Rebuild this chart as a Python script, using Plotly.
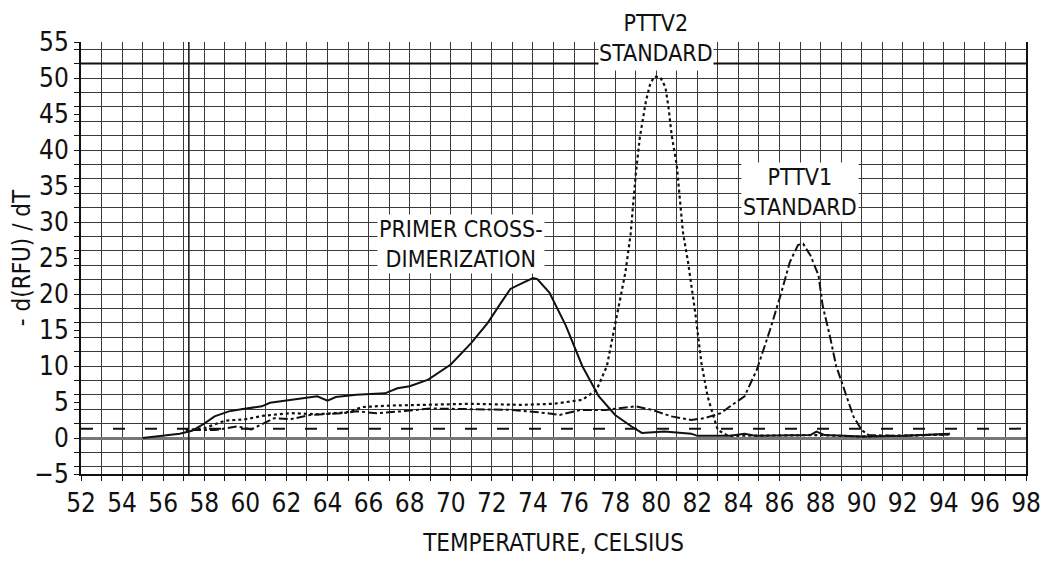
import plotly.graph_objects as go

# Melt-curve data
primer_x = [55.0, 56.8, 57.4, 58.0, 58.5, 59.2, 59.8, 60.8, 61.2, 61.9, 63.5, 64.0, 64.4, 65.4,
            66.8, 67.4, 68.0, 68.9, 70.0, 71.0, 71.8, 72.4, 72.9, 73.4, 74.0, 74.2, 74.8,
            75.6, 76.4, 77.2, 78.0, 78.8, 79.3, 80.4, 81.7, 82.0, 83.6, 84.3, 84.8, 87.5,
            87.8, 88.2, 90.0, 92.1, 94.3]
primer_y = [0.0, 0.6, 1.0, 2.0, 3.0, 3.7, 4.0, 4.4, 4.9, 5.2, 5.8, 5.2, 5.7, 6.0,
            6.2, 6.9, 7.2, 8.1, 10.2, 13.2, 16.0, 18.6, 20.7, 21.4, 22.2, 22.1, 20.2,
            15.6, 10.0, 5.8, 3.2, 1.6, 0.7, 0.9, 0.6, 0.3, 0.3, 0.6, 0.3, 0.4,
            0.9, 0.4, 0.2, 0.3, 0.6]

pttv2_x = [57.1, 58.0, 59.0, 60.0, 60.9, 62.2, 63.5, 64.9, 65.7, 67.0, 68.6, 71.0, 73.4,
           75.0, 76.4, 77.1, 77.6, 77.9, 78.2, 78.5, 78.75, 79.0, 79.2, 79.5, 79.7, 79.9,
           80.2, 80.45, 80.6, 80.75, 81.0, 81.15, 81.3, 81.55, 81.9, 82.2, 82.5, 82.84,
           83.0, 83.5, 86.0, 88.0, 90.0, 92.0, 94.3]
pttv2_y = [1.1, 1.35, 2.4, 2.6, 3.1, 3.45, 3.3, 3.55, 4.3, 4.5, 4.6, 4.75, 4.6,
           4.75, 5.3, 6.7, 10.0, 14.2, 18.4, 23.0, 28.2, 36.5, 41.7, 46.8, 49.1, 50.2,
           50.1, 48.7, 45.9, 42.1, 37.9, 33.3, 28.6, 24.4, 17.4, 10.4, 5.8, 2.5,
           1.1, 0.3, 0.3, 0.4, 0.2, 0.3, 0.5]

pttv1_x = [57.4, 58.5, 59.6, 60.3, 61.4, 62.2, 63.15, 64.75, 65.4, 66.4, 67.6, 69.0, 71.0,
           73.0, 74.7, 75.3, 76.3, 77.55, 79.0, 79.8, 80.75, 81.7, 82.35, 83.15, 83.6,
           84.3, 84.9, 85.55, 86.05, 86.5, 86.9, 87.15, 87.5, 87.9, 88.1, 88.45, 88.76,
           89.25, 89.6, 90.0, 90.35, 92.0, 94.3]
pttv1_y = [1.1, 1.1, 1.6, 1.2, 2.75, 2.6, 3.2, 3.45, 3.7, 3.45, 3.7, 4.1, 4.0,
           3.9, 3.45, 3.2, 3.9, 3.9, 4.4, 3.9, 3.0, 2.5, 2.75, 3.45, 4.4,
           5.8, 9.5, 15.1, 19.8, 24.4, 26.8, 27.0, 25.4, 22.6, 18.4, 14.2, 10.0,
           5.8, 3.0, 1.1, 0.4, 0.3, 0.5]

threshold = 1.3
cursor_x = 57.25
x_ticks = list(range(52, 99, 2))
y_ticks = list(range(-5, 56, 5))

FONT = "Liberation Sans Narrow, DejaVu Sans Condensed, Arial Narrow, sans-serif"
INK = "#111111"
GRID = "#3a3a3a"

fig = go.Figure()
fig.add_trace(go.Scatter(x=primer_x, y=primer_y, mode="lines",
                         line=dict(color=INK, width=2), name="Primer"))
fig.add_trace(go.Scatter(x=pttv2_x, y=pttv2_y, mode="lines",
                         line=dict(color=INK, width=2.2, dash="dot"), name="PTTV2"))
fig.add_trace(go.Scatter(x=pttv1_x, y=pttv1_y, mode="lines",
                         line=dict(color=INK, width=2, dash="dashdot"), name="PTTV1"))

# threshold line, cursor line and top frame line
fig.add_hline(y=threshold, line=dict(color=INK, width=2, dash="12px,20px"))
fig.add_vline(x=cursor_x, line=dict(color=INK, width=1.5))
fig.add_hline(y=52, line=dict(color=INK, width=2))

ann_font = dict(family=FONT, size=23, color=INK)
# PTTV2 label sits above the plot area, so it goes in paper coordinates;
# its white box reaches down over the top frame line
fig.add_annotation(x=80, y=1.076, xref="x", yref="paper", yanchor="top",
                   text="PTTV2<br>STANDARD", valign="top", height=60,
                   showarrow=False, font=ann_font, bgcolor="white", borderpad=0)
for x, y, txt in [(87, 34.2, "PTTV1<br>STANDARD"),
                  (70.5, 27.0, "PRIMER CROSS-<br>DIMERIZATION")]:
    fig.add_annotation(x=x, y=y, text=txt, showarrow=False, font=ann_font,
                       bgcolor="white", borderpad=1)

# page body has an 8px margin, so the figure is shifted by 8px
fig.update_layout(
    width=1042, height=549,
    paper_bgcolor="white", plot_bgcolor="white",
    margin=dict(l=73, r=24, t=34, b=83),
    showlegend=False,
    font=dict(family=FONT, size=24, color=INK),
    xaxis=dict(range=[52, 98], tickvals=x_ticks, showgrid=True, automargin=False,
               gridcolor=GRID, gridwidth=1.2, zeroline=False,
               showline=True, linecolor=INK, linewidth=2,
               ticks="outside", ticklen=5, tickcolor=INK,
               ticklabeloverflow="allow",
               tickfont=dict(family=FONT, size=26),
               minor=dict(dtick=1, showgrid=True, gridcolor=GRID, gridwidth=1.2,
                          ticks="outside", ticklen=5, tickcolor=INK),
               title=dict(text="TEMPERATURE, CELSIUS", standoff=27,
                          font=dict(family=FONT, size=24))),
    yaxis=dict(range=[-5, 55], tickvals=y_ticks, showgrid=False, automargin=False,
               zeroline=True, zerolinecolor="#777777", zerolinewidth=2.5,
               showline=True, linecolor=INK, linewidth=2, mirror=True,
               ticks="outside", ticklen=5, tickcolor=INK,
               tickfont=dict(family=FONT, size=26),
               minor=dict(dtick=2, tick0=0, showgrid=True, gridcolor=GRID,
                          gridwidth=1.2, ticks="outside", ticklen=5, tickcolor=INK),
               title=dict(text="- d(RFU) / dT", standoff=22,
                          font=dict(family=FONT, size=24))),
)

fig.write_html("out.html")
